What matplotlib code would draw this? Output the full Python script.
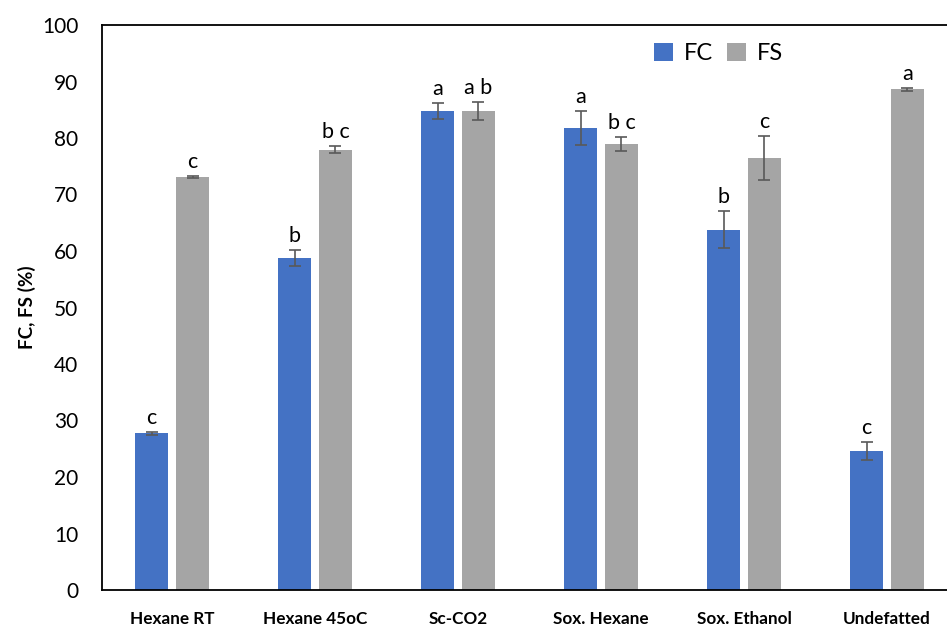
import matplotlib.pyplot as plt
import numpy as np

plt.rcParams['font.family'] = ['Lato', 'DejaVu Sans']

methods = ['Hexane RT', 'Hexane 45oC', 'Sc-CO2', 'Sox. Hexane', 'Sox. Ethanol', 'Undefatted']
fc = [27.7, 58.8, 84.8, 81.7, 63.8, 24.6]
fc_err = [0.3, 1.4, 1.45, 3.0, 3.3, 1.6]
fc_letters = ['c', 'b', 'a', 'a', 'b', 'c']
fs = [73.1, 77.9, 84.8, 78.9, 76.5, 88.6]
fs_err = [0.2, 0.6, 1.55, 1.2, 3.9, 0.3]
fs_letters = ['c', 'b c', 'a b', 'b c', 'c', 'a']

blue = '#4472C4'
gray = '#A5A5A5'
ecol = '#595959'

fig = plt.figure(figsize=(9.47, 6.28), dpi=100)
ax = fig.add_axes([102 / 947, 38 / 628, 845 / 947, 565 / 628])

x = np.arange(len(methods))
w = 0.228
off = 0.143

ax.bar(x - off, fc, w, color=blue, label='FC', zorder=2)
ax.bar(x + off, fs, w, color=gray, label='FS', zorder=2)
ax.errorbar(x - off, fc, yerr=fc_err, fmt='none', ecolor=ecol, elinewidth=1.2,
            capsize=4, capthick=1.2, zorder=3)
ax.errorbar(x + off, fs, yerr=fs_err, fmt='none', ecolor=ecol, elinewidth=1.2,
            capsize=4, capthick=1.2, zorder=3)

for i in range(len(methods)):
    ax.annotate(fc_letters[i], (x[i] - off, fc[i] + fc_err[i]), xytext=(0, 3),
                textcoords='offset points', ha='center', va='bottom', fontsize=15.5)
    ax.annotate(fs_letters[i], (x[i] + off, fs[i] + fs_err[i]), xytext=(0, 3),
                textcoords='offset points', ha='center', va='bottom', fontsize=15.5)

ax.set_xlim(-0.49, 5.42)
ax.set_ylim(0, 100)
ax.set_yticks(range(0, 101, 10))
ax.set_xticks(x)
ax.set_xticklabels(methods, fontweight='bold')
ax.tick_params(axis='y', length=0, pad=17, labelsize=15)
ax.tick_params(axis='x', length=0, pad=15, labelsize=12.3)
ax.set_ylabel('FC, FS (%)', fontweight='bold', fontsize=13.6, labelpad=4)

ax.spines['right'].set_visible(False)
for s in ['left', 'bottom', 'top']:
    ax.spines[s].set_linewidth(1.3)
    ax.spines[s].set_color('black')

ax.legend(loc='upper left', bbox_to_anchor=(633 / 947, 1 - 22 / 628),
          bbox_transform=fig.transFigure, ncol=2, frameon=False, fontsize=17,
          handlelength=0.8, handleheight=0.8, handletextpad=0.45, columnspacing=0.6)

fig.savefig('out.png', dpi=100)
